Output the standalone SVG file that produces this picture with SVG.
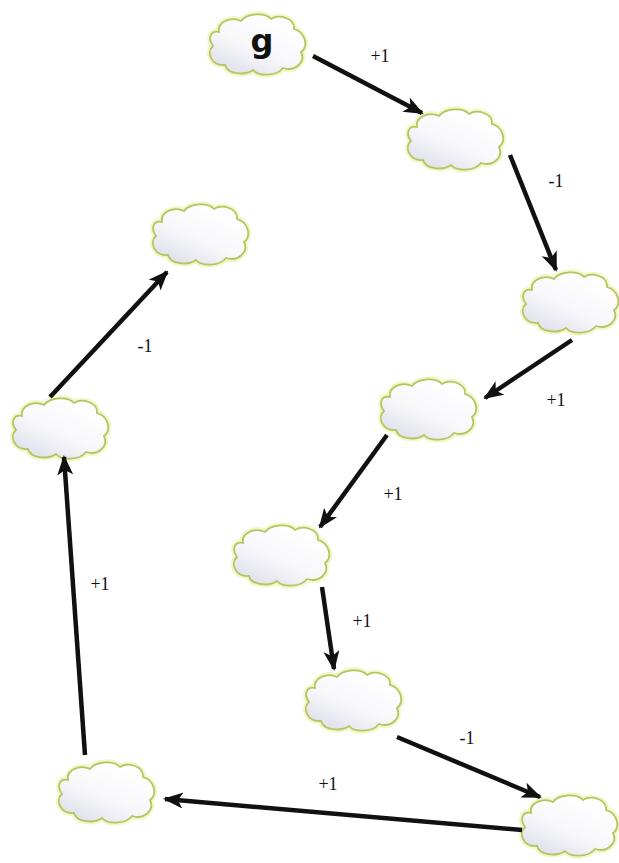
<svg xmlns="http://www.w3.org/2000/svg" width="619" height="863" viewBox="0 0 619 863">
<style>
.cl{fill:url(#cg);stroke:#b5c460;stroke-width:1.8}
.halo{fill:none;stroke:#f2f6c8;stroke-width:6}
.ar{stroke:#111;stroke-width:4.5;fill:none;marker-end:url(#ah)}
.lb{font-family:"Liberation Serif",serif;font-size:18px;fill:#111;text-anchor:middle}
.g{font-family:"DejaVu Sans",sans-serif;font-weight:bold;font-size:32px;fill:#111;text-anchor:middle}
</style>
<defs>
<linearGradient id="cg" x1="0.8" y1="0.1" x2="0.2" y2="0.95">
<stop offset="0" stop-color="#ffffff"/>
<stop offset="0.55" stop-color="#f8f8fb"/>
<stop offset="1" stop-color="#e0e0ec"/>
</linearGradient>
<path id="cp" d="M12,20 C10,10 24,4 34,9 C40,1 58,0 64,7 C72,2 88,6 87,17 C98,20 102,34 94,40 C99,50 88,60 76,56 C70,64 52,65 46,58 C38,64 20,62 18,53 C4,54 -1,40 6,34 C0,26 4,18 12,20 Z"/>
<marker id="ah" viewBox="0 0 10 10" refX="9" refY="5" markerWidth="20" markerHeight="16" markerUnits="userSpaceOnUse" orient="auto" preserveAspectRatio="none">
<path d="M0,0 L10,5 L0,10 L2.5,5 Z" fill="#111"/>
</marker>
</defs>
<g id="n1" transform="translate(207,12)"><use href="#cp" class="halo"/><use href="#cp" class="cl"/><text class="g" x="55" y="40">g</text></g>
<g id="n2" transform="translate(405,107)"><use href="#cp" class="halo"/><use href="#cp" class="cl"/></g>
<g id="n3" transform="translate(520,270)"><use href="#cp" class="halo"/><use href="#cp" class="cl"/></g>
<g id="n4" transform="translate(378,377)"><use href="#cp" class="halo"/><use href="#cp" class="cl"/></g>
<g id="n5" transform="translate(231,523)"><use href="#cp" class="halo"/><use href="#cp" class="cl"/></g>
<g id="n6" transform="translate(303,668)"><use href="#cp" class="halo"/><use href="#cp" class="cl"/></g>
<g id="n7" transform="translate(519,793)"><use href="#cp" class="halo"/><use href="#cp" class="cl"/></g>
<g id="n8" transform="translate(56,760)"><use href="#cp" class="halo"/><use href="#cp" class="cl"/></g>
<g id="n9" transform="translate(10,396)"><use href="#cp" class="halo"/><use href="#cp" class="cl"/></g>
<g id="n10" transform="translate(150,202)"><use href="#cp" class="halo"/><use href="#cp" class="cl"/></g>
<g id="connectors">
<line class="ar" x1="313" y1="56" x2="422" y2="113"/>
<line class="ar" x1="510" y1="155" x2="556" y2="270"/>
<line class="ar" x1="572" y1="340" x2="485" y2="398"/>
<line class="ar" x1="387" y1="435" x2="320" y2="527"/>
<line class="ar" x1="322" y1="587" x2="334" y2="669"/>
<line class="ar" x1="397" y1="737" x2="540" y2="797"/>
<line class="ar" x1="522" y1="830" x2="165" y2="799"/>
<line class="ar" x1="85" y1="755" x2="64" y2="457"/>
<line class="ar" x1="50" y1="397" x2="167" y2="272"/>
</g>
<g id="labels">
<text class="lb" x="380" y="62">+1</text>
<text class="lb" x="556" y="187">-1</text>
<text class="lb" x="556" y="406">+1</text>
<text class="lb" x="393" y="500">+1</text>
<text class="lb" x="362" y="627">+1</text>
<text class="lb" x="467" y="744">-1</text>
<text class="lb" x="328" y="790">+1</text>
<text class="lb" x="100" y="590">+1</text>
<text class="lb" x="145" y="352">-1</text>
</g>
</svg>
